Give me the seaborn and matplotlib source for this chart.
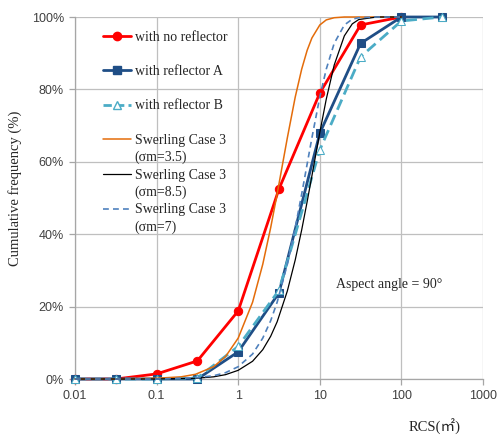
import numpy as np
import pandas as pd
import matplotlib
matplotlib.use("Agg")
import matplotlib.pyplot as plt
import seaborn as sns
from matplotlib.lines import Line2D
from matplotlib.ticker import FixedLocator

# ---- data ----
rcs_points = [0.01, 0.0316, 0.1, 0.316, 1, 3.16, 10, 31.6, 100, 316]
no_reflector = [0, 0, 1.4, 5.0, 18.8, 52.5, 79.0, 97.8, 100]
reflector_a = [0, 0, 0, 0, 7.5, 23.8, 67.9, 92.7, 100, 100]
reflector_b = [0, 0, 0, 0.3, 9.0, 24.5, 63.3, 89.0, 98.9, 100]

rcs_curve = [0.01, 0.03, 0.1, 0.2, 0.3, 0.5, 0.7, 1, 1.5, 2, 2.5, 3, 4, 5, 6, 7,
             8, 10, 12, 15, 20, 25, 30, 50, 100]
swerling_35 = [0, 0, 0.2, 0.6, 1.3, 3.4, 6.2, 11.3, 21.2, 31.7, 41.8, 51.1, 66.6,
               77.9, 85.6, 90.8, 94.2, 97.8, 99.2, 99.8, 100, 100, 100, 100, 100]
swerling_85 = [0, 0, 0, 0.1, 0.2, 0.6, 1.2, 2.4, 4.9, 8.1, 11.8, 15.8, 24.3, 32.9,
               41.2, 49.0, 56.1, 68.1, 77.3, 86.7, 94.8, 98.1, 99.3, 100, 100]
swerling_7 = [0, 0, 0, 0.2, 0.35, 0.9, 1.75, 3.4, 6.9, 11.3, 16.1, 21.2, 31.7, 41.8,
              51.1, 59.4, 66.6, 77.9, 85.6, 92.7, 97.8, 99.4, 99.8, 100, 100]

x_ticks = [0.01, 0.1, 1, 10, 100, 1000]
x_tick_labels = ["0.01", "0.1", "1", "10", "100", "1000"]
y_ticks = [0, 20, 40, 60, 80, 100]
y_tick_labels = ["0%", "20%", "40%", "60%", "80%", "100%"]

labels = ["with no reflector", "with reflector A", "with reflector B",
          "Swerling Case 3", "Swerling Case 3", "Swerling Case 3"]
sub_labels = ["(\u03c3m=3.5)", "(\u03c3m=8.5)", "(\u03c3m=7)"]

# ---- style ----
sns.set_theme(style="white")
plt.rcParams["font.family"] = ["Liberation Sans", "DejaVu Sans"]
serif = ["Liberation Serif", "Noto Sans CJK JP", "DejaVu Serif"]

c_red = "#FF0000"
c_a = "#1F4E86"
c_b = "#4BACC6"
c_or = "#E46C0A"
c_blk = "#000000"
c_dash = "#4F81BD"

fig = plt.figure(figsize=(4.99, 4.37), dpi=100)
ax = fig.add_axes([75 / 499, 1 - 379 / 437, 408 / 499, 362 / 437])

def df(x, y):
    return pd.DataFrame({"x": x[:len(y)], "y": y})

sns.lineplot(data=df(rcs_points, no_reflector), x="x", y="y", ax=ax, color=c_red,
             linewidth=2.0, marker="o", markersize=6, markeredgecolor=c_red,
             estimator=None, sort=False, clip_on=False, zorder=3)
sns.lineplot(data=df(rcs_points, reflector_a), x="x", y="y", ax=ax, color=c_a,
             linewidth=2.0, marker="s", markersize=6, markeredgecolor=c_a,
             estimator=None, sort=False, clip_on=False, zorder=4)
sns.lineplot(data=df(rcs_points, reflector_b), x="x", y="y", ax=ax, color=c_b,
             linewidth=2.0, dashes=False, marker="^", markersize=5.5,
             markerfacecolor="white", markeredgecolor=c_b,
             estimator=None, sort=False, clip_on=False, zorder=5)
ax.lines[-1].set_linestyle((0, (4, 2)))

sns.lineplot(data=df(rcs_curve, swerling_35), x="x", y="y", ax=ax, color=c_or,
             linewidth=1.1, estimator=None, sort=False, clip_on=False, zorder=6)
sns.lineplot(data=df(rcs_curve, swerling_85), x="x", y="y", ax=ax, color=c_blk,
             linewidth=0.9, estimator=None, sort=False, clip_on=False, zorder=6)
sns.lineplot(data=df(rcs_curve, swerling_7), x="x", y="y", ax=ax, color=c_dash,
             linewidth=1.2, estimator=None, sort=False, clip_on=False, zorder=6)
ax.lines[-1].set_linestyle((0, (3.5, 2.5)))

ax.set_xscale("log")
ax.set_xlim(0.01, 1000)
ax.set_ylim(0, 100)
ax.xaxis.set_major_locator(FixedLocator(x_ticks))
ax.xaxis.set_minor_locator(FixedLocator([]))
ax.set_xticks(x_ticks)
ax.set_xticklabels(x_tick_labels)
ax.set_yticks(y_ticks)
ax.set_yticklabels(y_tick_labels)

ax.grid(True, color="#BFBFBF", linewidth=0.9)
ax.set_axisbelow(True)
for s in ["top", "right"]:
    ax.spines[s].set_visible(False)
for s in ["left", "bottom"]:
    ax.spines[s].set_color("#A6A6A6")
    ax.spines[s].set_linewidth(0.9)
ax.tick_params(axis="both", which="major", direction="out", length=4, width=0.9,
               color="#A6A6A6", labelsize=9, labelcolor="#404040", pad=4)
ax.tick_params(axis="both", left=True, bottom=True)

ax.set_xlabel("")
ax.set_ylabel("")
fig.text(15 / 499, 1 - 188 / 437, "Cumulative frequency (%)", rotation=90,
         ha="center", va="center", fontsize=10.5, family=serif, color="#262626")
fig.text(435 / 499, 1 - 427 / 437, "RCS(\u33a1)", ha="center", va="center",
         fontsize=10.5, family=serif, color="#262626")
ax.text(0.64, 0.26, "Aspect angle = 90\u00b0", transform=ax.transAxes, ha="left",
        va="center", fontsize=10, family=serif, color="#262626")

# ---- legend ----
blank = Line2D([], [], linestyle="none", marker=None)
h_red = Line2D([], [], color=c_red, linewidth=2.0, marker="o", markersize=6)
h_a = Line2D([], [], color=c_a, linewidth=2.0, marker="s", markersize=6)
h_b = Line2D([], [], color=c_b, linewidth=2.0, linestyle=(0, (3, 1.5)), marker="^",
             markersize=5.5, markerfacecolor="white", markeredgecolor=c_b)
h_or = Line2D([], [], color=c_or, linewidth=1.1)
h_blk = Line2D([], [], color=c_blk, linewidth=0.9)
h_dash = Line2D([], [], color=c_dash, linewidth=1.2, linestyle=(0, (3.5, 2.5)))

handles = [h_red, blank, h_a, blank, h_b, blank,
           h_or, blank, h_blk, blank, h_dash, blank]
leg_labels = [labels[0], " ", labels[1], " ", labels[2], " ",
              labels[3], sub_labels[0], labels[4], sub_labels[1], labels[5], sub_labels[2]]
leg = ax.legend(handles, leg_labels, loc="upper left",
                bbox_to_anchor=(0.068, 0.962), frameon=False, borderpad=0,
                borderaxespad=0, handlelength=2.0, handletextpad=0.3,
                labelspacing=0.3, prop={"family": serif, "size": 10})
for t in leg.get_texts():
    t.set_color("#262626")

fig.savefig("out.png", dpi=100)
